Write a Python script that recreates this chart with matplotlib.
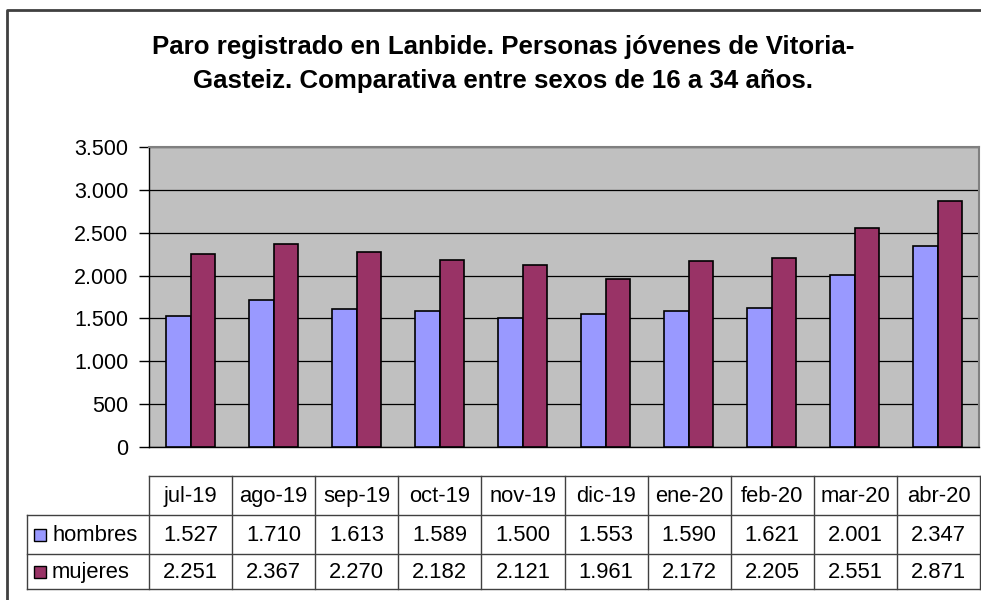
import matplotlib.pyplot as plt
from matplotlib.ticker import FuncFormatter

plt.rcParams['font.family'] = ['Liberation Sans', 'DejaVu Sans']

months = ["jul-19", "ago-19", "sep-19", "oct-19", "nov-19",
          "dic-19", "ene-20", "feb-20", "mar-20", "abr-20"]
hombres = [1527, 1710, 1613, 1589, 1500, 1553, 1590, 1621, 2001, 2347]
mujeres = [2251, 2367, 2270, 2182, 2121, 1961, 2172, 2205, 2551, 2871]
series = [("hombres", hombres, "#9999FF"), ("mujeres", mujeres, "#993366")]
title = ("Paro registrado en Lanbide. Personas jóvenes de Vitoria-\n"
         "Gasteiz. Comparativa entre sexos de 16 a 34 años.")

W, H = 981, 600
fig = plt.figure(figsize=(W / 100, H / 100), dpi=100)


def fx(px):
    return px / W


def fy(py):
    return 1 - py / H


# plot area
left, right, top, bottom = 149, 979, 147, 447
ax = fig.add_axes([fx(left), fy(bottom), fx(right - left), fy(top) - fy(bottom)])
ax.set_facecolor("#C0C0C0")
n = len(months)
bw = 0.29
xs = list(range(n))
ax.bar([x - bw / 2 for x in xs], hombres, width=bw, color=series[0][2],
       edgecolor="black", linewidth=1.2, zorder=3)
ax.bar([x + bw / 2 for x in xs], mujeres, width=bw, color=series[1][2],
       edgecolor="black", linewidth=1.2, zorder=3)
ax.set_xlim(-0.5, n - 0.5)
ax.set_ylim(0, 3500)
ax.set_yticks(range(0, 3501, 500))
ax.yaxis.set_major_formatter(FuncFormatter(lambda v, p: f"{int(v):,}".replace(",", ".")))
ax.grid(True, axis="y", color="black", linewidth=0.9, zorder=1)
ax.set_xticks([])
ax.tick_params(axis="y", length=7, width=1, pad=8, labelsize=15.5)
for s in ("top", "right"):
    ax.spines[s].set_color("#808080")
    ax.spines[s].set_linewidth(1.5)
for s in ("left", "bottom"):
    ax.spines[s].set_color("black")
    ax.spines[s].set_linewidth(1.0)

# overlay in pixel coords for frame, title and data table
ov = fig.add_axes([0, 0, 1, 1], facecolor="none")
ov.set_xlim(0, W)
ov.set_ylim(H, 0)
ov.axis("off")

# chart frame (only top and left edges are inside the picture)
ov.plot([7, 7, W + 5], [H + 5, 10, 10], color="#404040", linewidth=2,
        clip_on=True)

for i, line in enumerate(title.split("\n")):
    ov.text(503, 47 + 34 * i, line, ha="center", va="center", fontsize=18.6,
            fontweight="bold")

# data table
tl, tr = 27, 980
rows_y = [476, 515, 554, 589]
colw = (tr - left) / n
lc = "#404040"
ov.plot([left, tr], [rows_y[0]] * 2, color=lc, linewidth=1)
for yy in rows_y[1:]:
    ov.plot([tl, tr], [yy] * 2, color=lc, linewidth=1)
ov.plot([tl, tl], [rows_y[1], rows_y[3]], color=lc, linewidth=1)
for k in range(n + 1):
    xx = left + k * colw
    ov.plot([xx, xx], [rows_y[0], rows_y[3]], color=lc, linewidth=1)

for k, m in enumerate(months):
    ov.text(left + (k + 0.5) * colw, (rows_y[0] + rows_y[1]) / 2 + 1, m,
            ha="center", va="center", fontsize=15.8)

for r, (name, vals, col) in enumerate(series):
    yc = (rows_y[r + 1] + rows_y[r + 2]) / 2 + 1
    ov.add_patch(plt.Rectangle((34, yc - 6.5), 12, 12, facecolor=col,
                               edgecolor="black", linewidth=1))
    ov.text(52, yc, name, ha="left", va="center", fontsize=15.8)
    for k, v in enumerate(vals):
        ov.text(left + (k + 0.5) * colw, yc, f"{v:,}".replace(",", "."),
                ha="center", va="center", fontsize=15.8)

fig.savefig("out.png", dpi=100)
